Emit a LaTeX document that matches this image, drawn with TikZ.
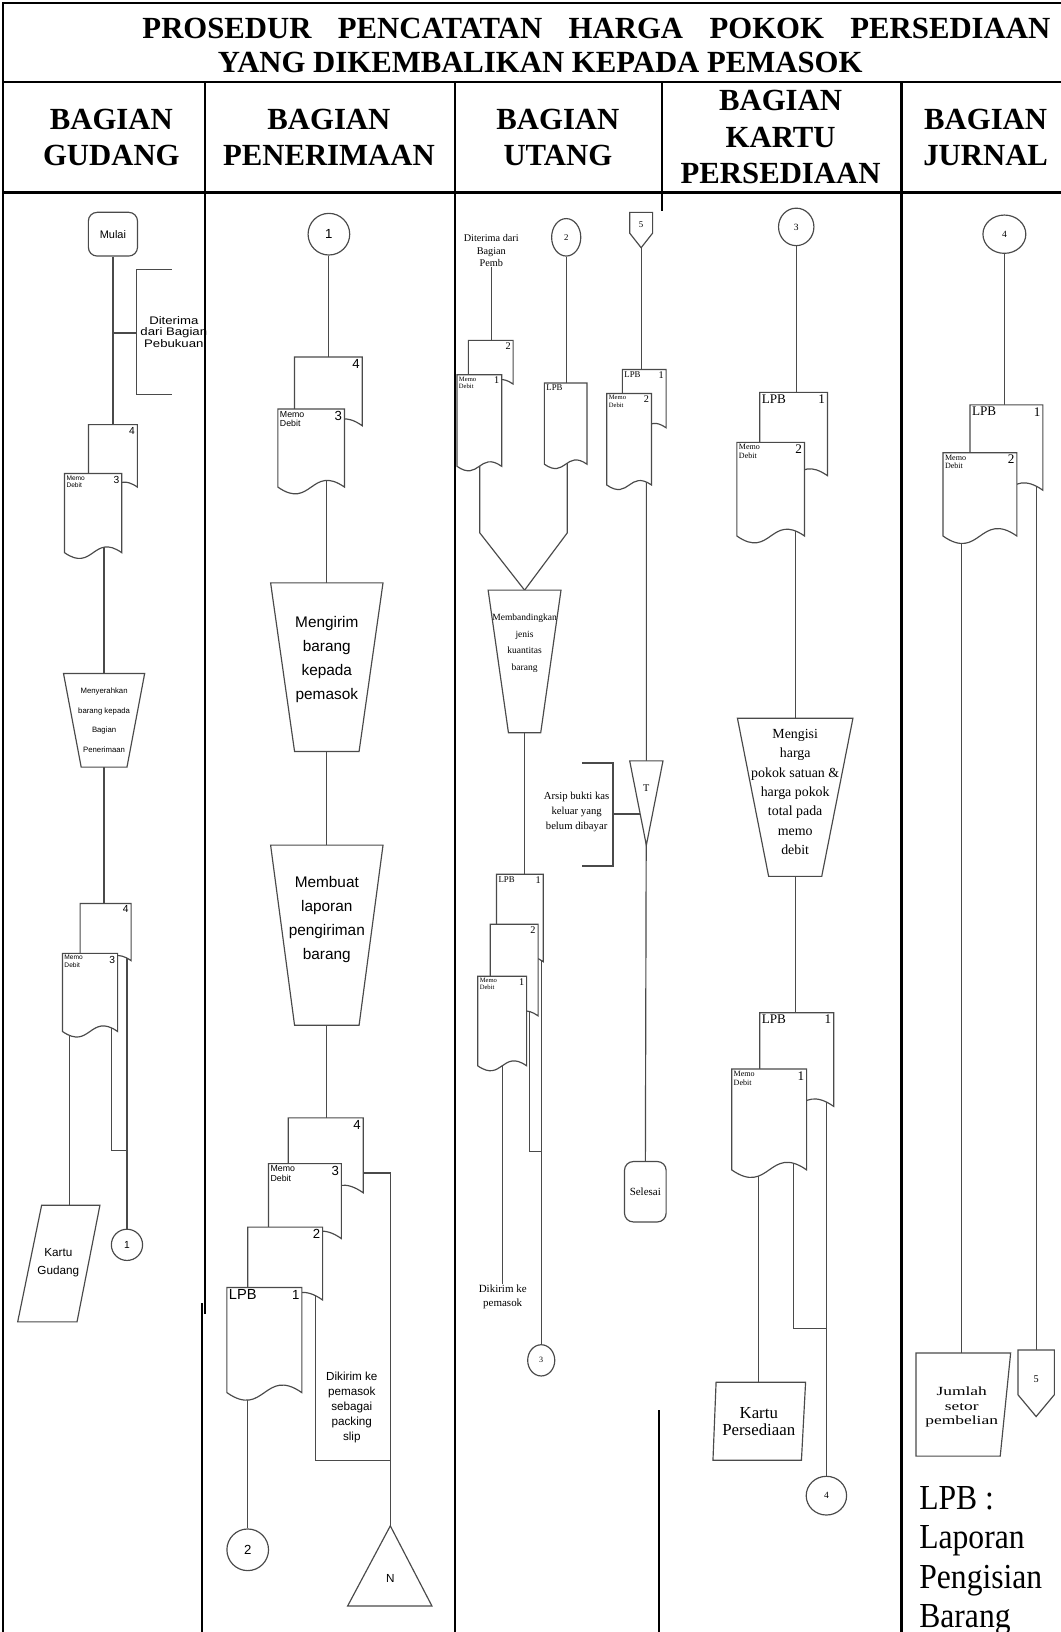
\documentclass[tikz,border=0pt]{standalone}
\usepackage{fontspec}
\setmainfont{Liberation Serif}
\newfontfamily\flowsans{Liberation Sans}
\newfontfamily\widesans[FakeStretch=1.2]{Liberation Sans}
\newfontfamily\wideserif[FakeStretch=1.4]{Liberation Serif}
\newfontfamily\tallserif[FakeStretch=0.9]{Liberation Serif}
\usepackage{tikz}
\usetikzlibrary{shapes.geometric,backgrounds}
\definecolor{FrameBlack}{HTML}{000000}
\definecolor{FlowGray}{HTML}{4A4A4A}

% fonts that change from lane to lane
\newcommand{\memofont}{}
\newcommand{\numfont}{}
\newcommand{\opfont}{}
\newcommand{\lpbsans}{\flowsans\fontsize{10}{11}\selectfont}
\newcommand{\lpbtiny}{\fontsize{6}{7}\selectfont}
\newcommand{\lpbserif}{\fontsize{9}{10}\selectfont}

% document symbol: name, left, top, width, side height, top-left text, top-right text
\newcommand{\flowdoc}[7]{%
  \draw[paperline] (#2,#3+#5) -- (#2,#3) -- (#2+#4,#3) -- (#2+#4,#3+#5)
    .. controls (#2+0.5*#4,#3+#5-0.35*#4) and (#2+0.5*#4,#3+#5+0.35*#4) .. (#2,#3+#5) -- cycle;
  \coordinate (#1) at (#2+0.5*#4,#3+0.5*#5);
  \node[papertl] at (#2,#3) {#6};
  \node[papertr] at (#2+#4,#3) {#7};
}
% manual operation: name, centre x, top, bottom, top width, bottom width, text y, text
\newcommand{\flowop}[8]{%
  \draw[shapeline] (#2-0.5*#5,#3) -- (#2+0.5*#5,#3) -- (#2+0.5*#6,#4) -- (#2-0.5*#6,#4) -- cycle;
  \node[optext] (#1) at (#2,#7) {#8};
}

\begin{document}
\begin{tikzpicture}[x=0.025cm, y=-0.025cm,
  frame/.style={line width=1.6pt, FrameBlack},
  flow/.style={line width=0.8pt, FlowGray},
  paperline/.style={flow, fill=white},
  shapeline/.style={flow, fill=white},
  papertl/.style={anchor=north west, inner sep=1.2pt, align=left, font=\memofont},
  papertr/.style={anchor=north east, inner sep=1.5pt, font=\numfont},
  optext/.style={align=center, inner sep=0pt, font=\opfont},
  conn/.style={ellipse, draw=FlowGray, line width=0.8pt, fill=white, inner sep=0pt},
  terminal/.style={rectangle, rounded corners=6pt, draw=FlowGray, line width=0.8pt, fill=white, inner sep=0pt},
  headtext/.style={font=\bfseries\fontsize{21}{24.9}\selectfont, align=center},
  note/.style={align=center, inner sep=0pt}]
  \useasboundingbox (0,0) rectangle (1019,1568);

  % Table frame
  \draw[frame] (3,1568) -- (3,3) -- (1019,3);
  \draw[frame] (3,79) -- (1019,79);
  \draw[frame] (3,185) -- (1019,185);
  \draw[frame] (197,79) -- (197,1262);
  \draw[frame] (194,1252) -- (194,1568);
  \draw[frame] (437,79) -- (437,1568);
  \draw[frame] (636,79) -- (636,203);
  \draw[frame] (633,1355) -- (633,1568);
  \draw[frame] (866,79) -- (866,1568);

  % Title and lane headers
  \node[font=\bfseries\fontsize{21}{24}\selectfont] (title1) at (573,27)
  {\makebox[21.8cm][s]{PROSEDUR PENCATATAN HARGA POKOK PERSEDIAAN}};
  \node[font=\bfseries\fontsize{21}{24}\selectfont] (title2) at (519,60)
  {YANG DIKEMBALIKAN KEPADA PEMASOK};
  \node[headtext] (hgudang) at (107,132) {BAGIAN\\GUDANG};
  \node[headtext] (hterima) at (316,132) {BAGIAN\\PENERIMAAN};
  \node[headtext] (hutang) at (536,132) {BAGIAN\\UTANG};
  \node[headtext] (hkartu) at (750,132) {BAGIAN\\KARTU\\PERSEDIAAN};
  \node[headtext] (hjurnal) at (947,132) {BAGIAN\\JURNAL};

  % Bagian Gudang
  \renewcommand{\memofont}{\flowsans\fontsize{4.5}{5}\selectfont}
  \renewcommand{\numfont}{\flowsans\fontsize{7}{8}\selectfont}
  \renewcommand{\opfont}{\flowsans\fontsize{5.3}{13.5}\selectfont}
  \node[terminal, minimum width=1.18cm, minimum height=1.05cm,
    font=\flowsans\fontsize{7.5}{9}\selectfont] (mulai) at (108.5,225) {Mulai};
  \node[note, font=\widesans\fontsize{7.5}{7.6}\selectfont] (gnote) at (167,319)
  {Diterima\\dari Bagian\\Pebukuan};
  \draw[flow] (165,259) -- (131,259) -- (131,379) -- (165,379);
  \coordinate (gnotetick) at (131,320);
  \flowdoc{g4a}{85}{408}{47}{60}{}{4}
  \flowdoc{g3a}{62}{455}{55}{76}{Memo\\Debit}{3}
  \flowop{gtrap}{100}{647}{737}{78}{44}{692}{Menyerahkan\\barang kepada\\Bagian\\Penerimaan}
  \flowdoc{g4b}{77}{868}{49}{55}{}{4}
  \flowdoc{g3b}{60}{916}{53}{75}{Memo\\Debit}{3}
  \draw[shapeline] (40,1158) -- (96,1158) -- (74,1270) -- (17,1270) -- cycle;
  \node[note, font=\flowsans\fontsize{8}{12.5}\selectfont] (gkartu) at (56,1213) {Kartu\\Gudang};
  \coordinate (gkin) at (67,1158);
  \coordinate (gjoin) at (107,1105);
  \node[conn, minimum size=0.75cm, font=\flowsans\fontsize{7}{8}\selectfont] (gc1) at (122,1196) {1};

  % Bagian Penerimaan
  \renewcommand{\memofont}{\flowsans\fontsize{6}{6.5}\selectfont}
  \renewcommand{\numfont}{\flowsans\fontsize{9}{10}\selectfont}
  \renewcommand{\opfont}{\flowsans\fontsize{10.5}{16.4}\selectfont}
  \node[conn, minimum size=1cm, font=\flowsans\fontsize{9}{10}\selectfont] (pc1) at (316,225) {1};
  \flowdoc{p4a}{283}{343}{65}{66}{}{4}
  \flowdoc{p3a}{267}{393}{64}{75}{Memo\\Debit}{3}
  \flowop{ptrap1}{314}{560}{722}{108}{62}{634}{Mengirim\\barang\\kepada\\pemasok}
  \flowop{ptrap2}{314}{812}{985}{108}{62}{883}{Membuat\\laporan\\pengiriman\\barang}
  \flowdoc{p4b}{277}{1074}{72}{72}{}{4}
  \flowdoc{p3b}{258}{1118}{70}{72}{Memo\\Debit}{3}
  \flowdoc{p2b}{238}{1179}{72}{70}{}{2}
  \flowdoc{p1b}{218}{1237}{72}{101}{\lpbsans LPB}{1}
  \node[note, font=\flowsans\fontsize{8}{10.3}\selectfont] (pslip) at (338,1352)
  {Dikirim ke\\pemasok\\sebagai\\packing\\slip};
  \coordinate (pslipa) at (375,1127);
  \coordinate (pslipb) at (303,1403);
  \draw[shapeline] (375,1466) -- (415,1543) -- (334,1543) -- cycle;
  \node[font=\flowsans\fontsize{8}{9}\selectfont] (ntri) at (375,1517) {N};
  \node[conn, minimum size=1cm, font=\flowsans\fontsize{9}{10}\selectfont] (pc2) at (238,1489) {2};

  % Bagian Utang
  \renewcommand{\memofont}{\fontsize{4.5}{5}\selectfont}
  \renewcommand{\numfont}{\fontsize{7}{8}\selectfont}
  \renewcommand{\opfont}{\fontsize{6.5}{11.5}\selectfont}
  \node[note, font=\fontsize{7}{8.5}\selectfont] (unote) at (472,241) {Diterima dari\\Bagian\\Pemb};
  \flowdoc{u2a}{450}{327}{43}{42}{}{2}
  \flowdoc{u1a}{439}{360}{43}{88}{Memo\\Debit}{1}
  \node[conn, minimum width=0.7cm, minimum height=0.9cm, font=\fontsize{6}{7}\selectfont] (uc2) at (544,228) {2};
  \flowdoc{ulpb}{523}{368}{41}{78}{\lpbtiny LPB}{}
  \draw[shapeline] (605,204) -- (627,204) -- (627,224) -- (616,238) -- (605,224) -- cycle;
  \node[font=\fontsize{6}{7}\selectfont] (u5) at (616,216) {5};
  \flowdoc{uL1a}{598}{355}{42}{56}{\lpbtiny LPB}{1}
  \flowdoc{uM2a}{583}{378}{43}{88}{Memo\\Debit}{2}
  \coordinate (ujoinl) at (461,512);
  \coordinate (ujoinr) at (545,512);
  \coordinate (umerge) at (504,567);
  \flowop{utrap}{504}{567}{704}{70}{31}{618}{Membandingkan\\jenis\\kuantitas\\barang}
  \draw[shapeline] (605,731) -- (637,731) -- (621,812) -- cycle;
  \node[font=\fontsize{7}{8}\selectfont] (ut) at (621,757) {T};
  \draw[flow] (559,733) -- (589,733) -- (589,832) -- (559,832);
  \coordinate (uarsip) at (589,782);
  \node[note, font=\fontsize{7.3}{10}\selectfont] (uarsiptext) at (554,780)
  {Arsip bukti kas\\keluar yang\\belum dibayar};
  \node[terminal, minimum width=1cm, minimum height=1.45cm, font=\fontsize{7.5}{9}\selectfont]
  (selesai) at (620,1145) {Selesai};
  \flowdoc{uL1b}{477}{840}{45}{84}{\lpbtiny LPB}{1}
  \flowdoc{uD2b}{471}{888}{46}{88}{}{2}
  \flowdoc{uM1b}{459}{938}{47}{86}{Memo\\Debit}{1}
  \node[note, font=\fontsize{7.5}{10}\selectfont] (ukirim) at (483,1246) {Dikirim ke\\pemasok};
  \coordinate (ujoin) at (509,1106);
  \node[conn, minimum width=0.65cm, minimum height=0.75cm, font=\fontsize{5.5}{6}\selectfont] (uc3) at (520,1307) {3};

  % Bagian Kartu Persediaan
  \renewcommand{\memofont}{\fontsize{5.5}{6}\selectfont}
  \renewcommand{\numfont}{\fontsize{9}{10}\selectfont}
  \renewcommand{\opfont}{\fontsize{9.5}{13.2}\selectfont}
  \node[conn, minimum width=0.85cm, minimum height=0.9cm, font=\fontsize{6.5}{7}\selectfont] (kc3) at (765,218) {3};
  \flowdoc{kL1a}{730}{377}{65}{80}{\lpbserif LPB}{1}
  \flowdoc{kM2a}{708}{425}{65}{90}{Memo\\Debit}{2}
  \flowop{ktrap}{764}{690}{842}{111}{51}{761}{Mengisi\\harga\\pokok satuan \&\\harga pokok\\total pada\\memo\\debit}
  \flowdoc{kL1b}{730}{973}{71}{90}{\lpbserif LPB}{1}
  \flowdoc{kM1b}{703}{1027}{72}{97}{Memo\\Debit}{1}
  \draw[shapeline] (688,1328) -- (774,1328) -- (770,1403) -- (685,1403) -- cycle;
  \node[note, font=\fontsize{11.5}{11.5}\selectfont] (kkartu) at (729,1366) {Kartu\\Persediaan};
  \coordinate (kjoin) at (762,1276);
  \node[conn, minimum width=0.97cm, minimum height=0.93cm, font=\fontsize{6.5}{7}\selectfont] (kc4) at (794,1437) {4};

  % Bagian Jurnal
  \node[conn, minimum width=1.03cm, minimum height=0.92cm, font=\fontsize{6.5}{7}\selectfont] (jc4) at (965,225) {4};
  \flowdoc{jL1}{932}{389}{70}{82}{\lpbserif LPB}{1}
  \flowdoc{jM2}{906}{435}{71}{80}{Memo\\Debit}{2}
  \draw[shapeline] (880,1300) -- (971,1300) -- (961,1399) -- (880,1399) -- cycle;
  \node[note, font=\wideserif\fontsize{8.5}{10}\selectfont] (jjumlah) at (924,1352) {Jumlah\\setor\\pembelian};
  \draw[shapeline] (978,1297) -- (1013,1297) -- (1013,1340) -- (995.5,1361) -- (978,1340) -- cycle;
  \node[font=\fontsize{7}{8}\selectfont] (j5) at (995.5,1325) {5};
  \node[anchor=north west, align=left, inner sep=0pt, font=\tallserif\fontsize{24}{26.8}\selectfont]
  (legend) at (883,1428) {LPB :\\Laporan\\Pengisian\\Barang};

  % Flow lines, kept behind the symbols
  \begin{pgfonlayer}{background}
    \draw[flow] (mulai) -- (g4a);
    \draw[flow] (mulai |- gnotetick) -- (gnotetick);
    \draw[flow] (g3a -| gtrap) -- (gtrap) -- (gtrap |- g4b);
    \draw[flow] (g3b -| gkin) -- (gkin);
    \draw[flow] (g3b -| gjoin) -- (gjoin) -- (gjoin -| gc1);
    \draw[flow] (g4b -| gc1) -- (gc1);

    \draw[flow] (pc1) -- (pc1 |- p4a);
    \draw[flow] (p3a -| ptrap1) -- (ptrap1) -- (ptrap2) -- (ptrap2 |- p4b);
    \draw[flow] (p4b |- pslipa) -- (pslipa) -- (ntri);
    \draw[flow] (p2b -| pslipb) -- (pslipb) -- (pslipb -| pslipa);
    \draw[flow] (p1b -| pc2) -- (pc2);

    \draw[flow] (unote.south) -- (unote.south |- u2a);
    \draw[flow] (uc2) -- (uc2 |- ulpb);
    \draw[flow] (u1a -| ujoinl) -- (ujoinl) -- (umerge);
    \draw[flow] (ulpb -| ujoinr) -- (ujoinr) -- (umerge);
    \draw[flow] (u5) -- (u5 |- uL1a);
    \draw[flow] (uM2a -| ut) -- (ut) -- (selesai);
    \draw[flow] (uarsip) -- (uarsip -| ut);
    \draw[flow] (utrap) -- (utrap |- uL1b);
    \draw[flow] (uM1b -| ukirim) -- (ukirim);
    \draw[flow] (uD2b -| ujoin) -- (ujoin) -- (ujoin -| uc3);
    \draw[flow] (uL1b -| uc3) -- (uc3);

    \draw[flow] (kc3) -- (kc3 |- kL1a);
    \draw[flow] (kM2a -| ktrap) -- (ktrap) -- (ktrap |- kL1b);
    \draw[flow] (kM1b -| kkartu) -- (kkartu);
    \draw[flow] (kM1b -| kjoin) -- (kjoin) -- (kjoin -| kc4);
    \draw[flow] (kL1b -| kc4) -- (kc4);

    \draw[flow] (jc4) -- (jc4 |- jL1);
    \draw[flow] (jM2 -| jjumlah) -- (jjumlah);
    \draw[flow] (jL1 -| j5) -- (j5);
  \end{pgfonlayer}
\end{tikzpicture}
\end{document}
